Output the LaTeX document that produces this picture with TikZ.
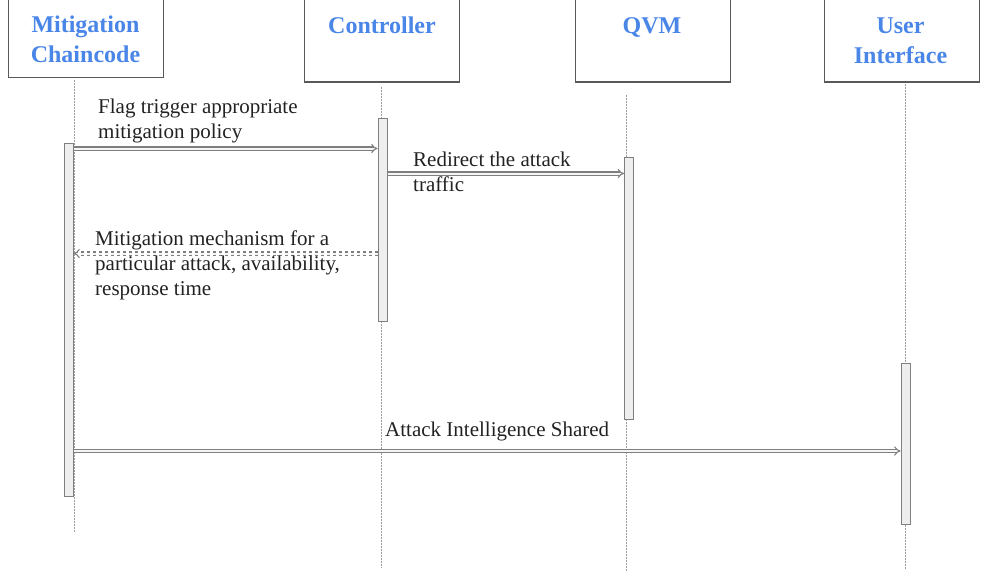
\documentclass[tikz,border=0pt]{standalone}
\usepackage{fontspec}
\setmainfont{Liberation Serif}
\usetikzlibrary{arrows.meta}
\definecolor{headblue}{HTML}{4A86E8}
\definecolor{boxline}{HTML}{595959}
\definecolor{barline}{HTML}{7F7F7F}
\definecolor{barfill}{HTML}{EEEEEE}
\definecolor{lifegray}{HTML}{9E9E9E}
\definecolor{ink}{HTML}{222222}
\begin{document}
\begin{tikzpicture}[x=1pt,y=-1pt,
  actorbox/.style={draw=boxline, line width=1.4pt, fill=white, minimum width=155pt,
    minimum height=100pt, anchor=south west, inner sep=0pt},
  head/.style={font=\bfseries\fontsize{24}{30}\selectfont, text=headblue,
    anchor=base, inner sep=0pt, align=center},
  lbl/.style={font=\fontsize{21}{25}\selectfont, text=ink, anchor=base west,
    inner sep=0pt, align=left},
  life/.style={draw=lifegray, line width=0.7pt, dash pattern=on 1.5pt off 1.5pt},
  actbar/.style={draw=barline, line width=1pt, fill=barfill, minimum width=9pt,
    anchor=north, inner sep=0pt},
  msg/.style={draw=barline, line width=1.1pt, double=barfill!60!white, double distance=2pt,
    -{Implies[scale=1.5]}},
]
\useasboundingbox (0,0) rectangle (982,576);

% participant boxes (tops run off the page)
\node[actorbox] (mc) at (8,78) {};
\node[actorbox] (ct) at (304,82.5) {};
\node[actorbox] (qv) at (575,82.5) {};
\node[actorbox] (ui) at (823.5,82.5) {};

% names; the base anchor sits on the last line
\node[head] (mcname) at (85.5,62) {Mitigation\\Chaincode};
\node[head] (ctname) at (382,33) {Controller};
\node[head] (qvname) at (652,33) {QVM};
\node[head] (uiname) at (900.5,63) {User\\Interface};

% lifelines
\coordinate (mcA) at (74.5,80);  \coordinate (mcB) at (74.5,533);
\coordinate (ctA) at (381,87);   \coordinate (ctB) at (381,568);
\coordinate (qvA) at (626.5,95); \coordinate (qvB) at (626.5,572);
\coordinate (uiA) at (905,84);   \coordinate (uiB) at (905,570);
\draw[life] (mcA) -- (mcB);
\draw[life] (ctA) -- (ctB);
\draw[life] (qvA) -- (qvB);
\draw[life] (uiA) -- (uiB);

% activation bars
\node[actbar, minimum height=353pt] (mcbar) at (68.5,143) {};
\node[actbar, minimum height=203pt] (ctbar) at (382.5,117.5) {};
\node[actbar, minimum height=262pt] (qvbar) at (629,157) {};
\node[actbar, minimum height=161pt] (uibar) at (905.5,362.5) {};

% messages
\draw[msg] (mcbar.east |- 0,148.5) -- (ctbar.west |- 0,148.5);
\draw[msg] (ctbar.east |- 0,173.5) -- (qvbar.west |- 0,173.5);
\draw[msg, dashed] (ctbar.west |- 0,253.5) -- (mcbar.east |- 0,253.5);
\draw[msg] (mcbar.east |- 0,451) -- (uibar.west |- 0,451);

% message labels (base anchor on the last line)
\node[lbl] (m1) at (98,138) {Flag trigger appropriate\\mitigation policy};
\node[lbl] (m2) at (413,191.5) {Redirect the attack\\traffic};
\node[lbl] (m3) at (95,295) {Mitigation mechanism for a\\particular attack, availability,\\response time};
\node[lbl] (m4) at (385,436) {Attack Intelligence Shared};
\end{tikzpicture}
\end{document}
